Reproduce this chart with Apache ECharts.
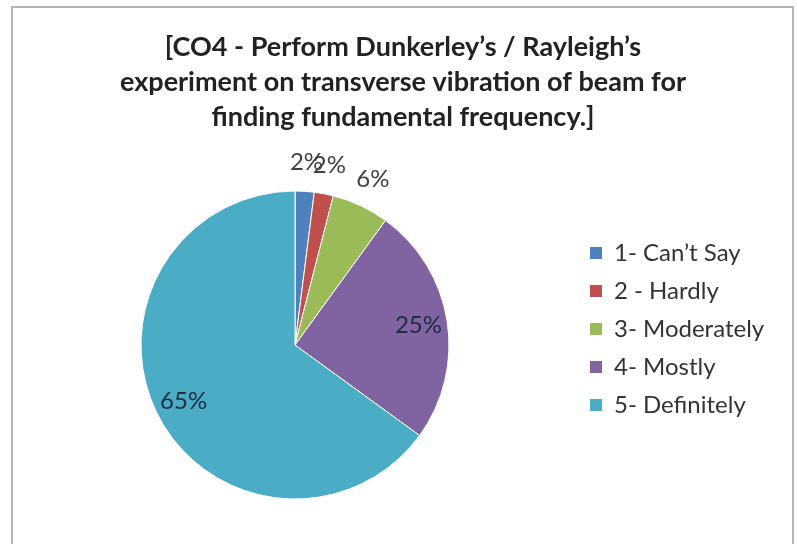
<!DOCTYPE html>
<html><head><meta charset="utf-8">
<script src="https://cdn.jsdelivr.net/npm/echarts@6/dist/echarts.min.js"></script>
<style>html,body{margin:0;padding:0;background:#fff}#c{width:797px;height:544px}</style>
</head><body><div id="c"></div>
<script>
const titleLines = ["[CO4 - Perform Dunkerley’s / Rayleigh’s", "experiment on transverse vibration of beam for", "finding fundamental frequency.]"];
const categories = ["1- Can’t Say", "2 - Hardly", "3- Moderately", "4- Mostly", "5- Definitely"];
const values = [2, 2, 6, 25, 65];
const colors = ["#4F81BD", "#C0504D", "#9BBB59", "#8064A2", "#4BACC6"];

const FONT = "Lato";
const CENTER = [295, 345];
const chart = echarts.init(document.getElementById('c'), null, {renderer: 'canvas'});

function ringData(showFn) {
  return categories.map((n, i) => ({
    name: n, value: values[i],
    label: { show: showFn(values[i]) }
  }));
}
const ringBase = {
  type: 'pie', center: CENTER, startAngle: 90, clockwise: true, silent: true,
  itemStyle: { color: 'rgba(0,0,0,0)', borderWidth: 0 },
  emphasis: { disabled: true },
  labelLine: { show: false },
  labelLayout: { hideOverlap: false },
  avoidLabelOverlap: false,
  legendHoverLink: false,
  animation: false
};

chart.setOption({
  animation: false,
  color: colors,
  title: {
    text: titleLines.join('\n'),
    left: 403, top: 30, textAlign: 'center', padding: 0,
    textStyle: { fontFamily: FONT, fontWeight: 'bold', fontSize: 27, lineHeight: 35, color: '#222' }
  },
  graphic: [{
    type: 'rect', shape: { x: 12, y: 7, width: 781, height: 600 },
    style: { fill: 'none', stroke: '#b4b4b4', lineWidth: 2 }, silent: true
  }],
  legend: {
    orient: 'vertical', left: 588, top: 241, padding: 0,
    data: categories,
    itemWidth: 14, itemHeight: 14, itemGap: 14, icon: 'rect',
    textStyle: { fontFamily: FONT, fontSize: 24, color: '#333', padding: [0, 0, 0, 6] },
    selectedMode: false
  },
  series: [
    {
      type: 'pie', name: 'main', center: CENTER, radius: [0, 154],
      startAngle: 90, clockwise: true,
      data: categories.map((n, i) => ({ name: n, value: values[i] })),
      itemStyle: { borderColor: '#ffffff', borderWidth: 1 },
      label: { show: false }, labelLine: { show: false },
      emphasis: { disabled: true }
    },
    Object.assign({}, ringBase, {
      name: 'outerLabels', radius: [172, 188],
      data: ringData(v => v < 10),
      label: { position: 'inside', formatter: p => p.value + '%', fontFamily: FONT, fontSize: 24, color: '#404040', rotate: 0 }
    }),
    Object.assign({}, ringBase, {
      name: 'innerLabels', radius: [112, 132],
      data: ringData(v => v >= 10),
      label: { position: 'inside', formatter: p => p.value + '%', fontFamily: FONT, fontSize: 24, color: '#1f2a44', rotate: 0 }
    })
  ]
});
</script></body></html>
